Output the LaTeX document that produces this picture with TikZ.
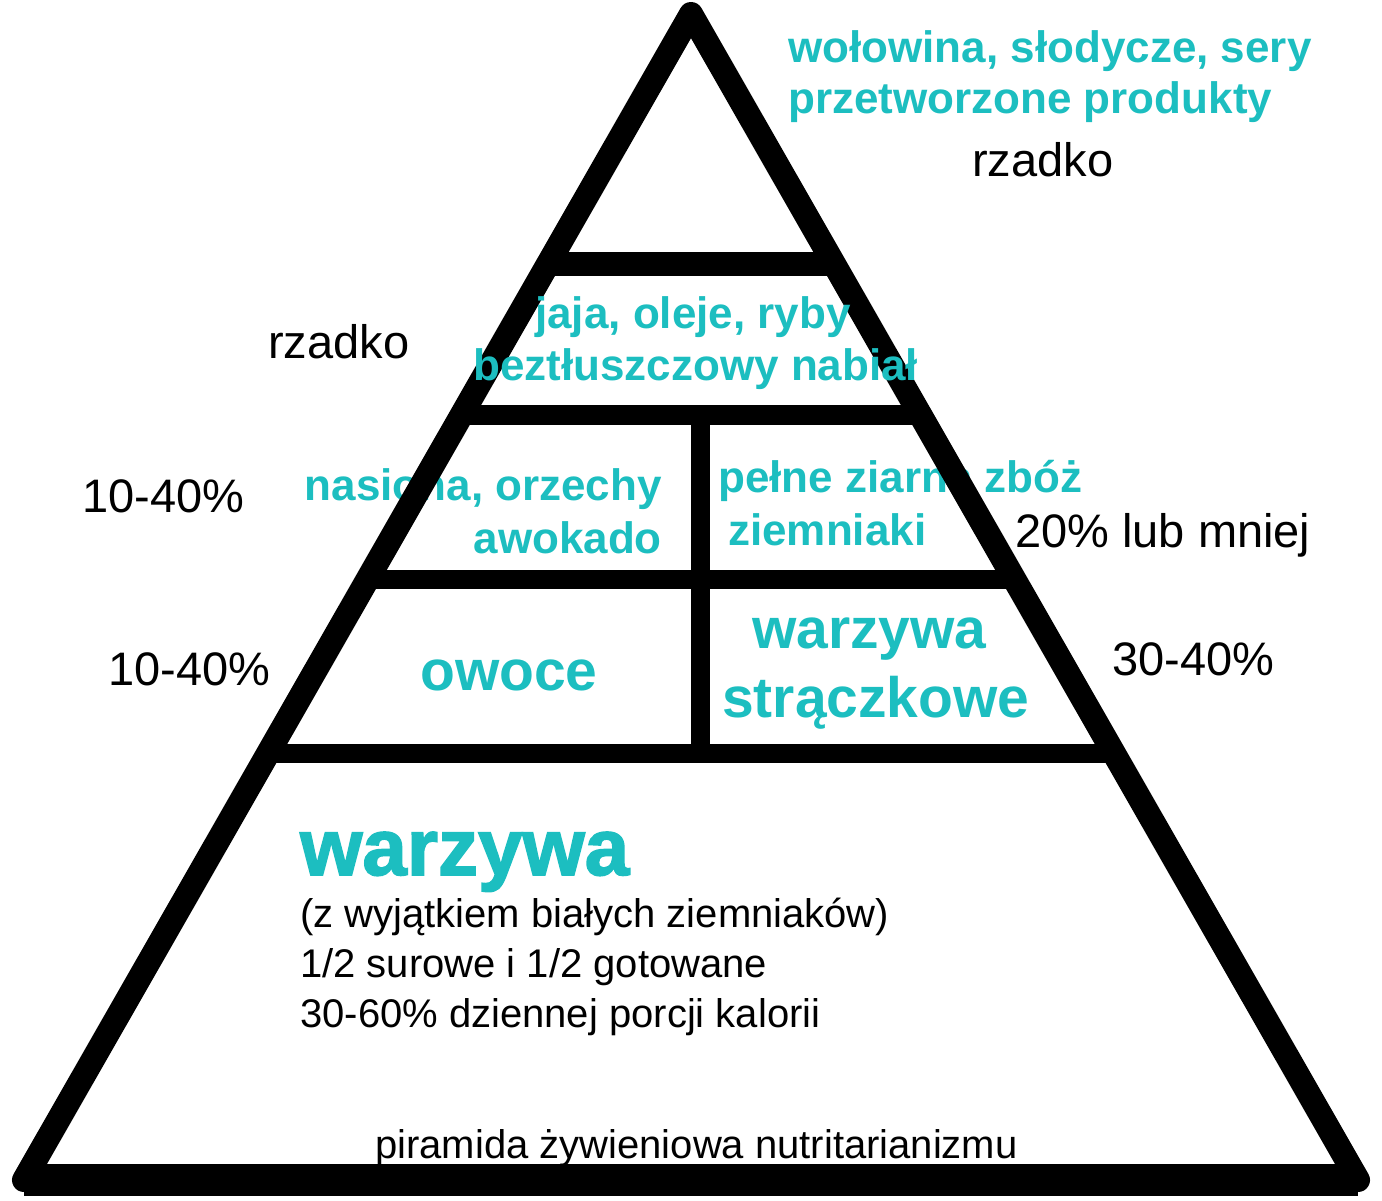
\documentclass[tikz,border=0pt]{standalone}
\usepackage{fontspec}
\setmainfont{Liberation Sans}
\usetikzlibrary{calc}
\definecolor{cyanT}{RGB}{28,190,192}
\tikzset{
  edge/.style={line width=24pt, line join=round, line cap=round},
  band/.style={line width=#1, line cap=butt},
  lbl/.style={inner sep=0pt, font=\fontsize{47}{50}\selectfont, text=black},
  cy/.style={inner sep=0pt, font=\fontsize{44}{48}\selectfont\bfseries, text=cyanT},
  cymid/.style={inner sep=0pt, font=\fontsize{57}{60}\selectfont\bfseries, text=cyanT},
  cybig/.style={inner sep=0pt, font=\fontsize{80}{84}\selectfont\bfseries\addfontfeature{FakeBold=2}, text=cyanT},
  body/.style={inner sep=0pt, font=\fontsize{40}{44}\selectfont, text=black},
}
\begin{document}
\begin{tikzpicture}[x=1pt,y=-1pt]
\useasboundingbox (0,0) rectangle (1382,1200);
\fill[white] (0,0) rectangle (1382,1200);
\coordinate (A) at (691,14);
\coordinate (L) at (24,1180);
\coordinate (R) at (1358,1180);
% text that lies behind lines
\node[cy, anchor=base west] (pel) at (718,492) {pełne ziarna zbóż};
\node[cy, anchor=base east] (nas) at (662,500) {nasiona, orzechy};
% pyramid outline
\draw[edge] (A) -- (L) -- (R) -- cycle;
\draw[band=32pt] (L) -- (R);
% bands
\draw[band=24pt] ($(A)!0.2144!(L)$) coordinate (b1l) -- ($(A)!0.2144!(R)$) coordinate (b1r);
\draw[band=20pt] ($(A)!0.3439!(L)$) coordinate (b2l) -- ($(A)!0.3439!(R)$) coordinate (b2r);
\draw[band=19pt] ($(A)!0.4846!(L)$) coordinate (b3l) -- ($(A)!0.4846!(R)$) coordinate (b3r);
\draw[band=19pt] ($(A)!0.6338!(L)$) coordinate (b4l) -- ($(A)!0.6338!(R)$) coordinate (b4r);
\coordinate (v1) at (700,415);
\coordinate (v2) at (700,753);
\draw[band=19pt] (v1) -- (v2);
% texts
\node[cy, anchor=base west] (w1) at (788,62) {wołowina, słodycze, sery};
\node[cy, anchor=base west] (w2) at (788,113) {przetworzone produkty};
\node[lbl, anchor=base west] (rz1) at (972,176) {rzadko};
\node[lbl, anchor=base west] (rz2) at (268,358) {rzadko};
\node[cy, anchor=base west] (jaja) at (535,328) {jaja, oleje, ryby};
\node[cy, anchor=base west] (bez) at (473,380) {beztłuszczowy nabiał};
\node[lbl, anchor=base west] (p1) at (82,512) {10-40\%};
\node[cy, anchor=base east] (awo) at (662,553) {awokado};
\node[cy, anchor=base west] (ziem) at (728,545) {ziemniaki};
\node[lbl, anchor=base west] (p2) at (1015,547) {20\% lub mniej};
\node[lbl, anchor=base west] (p3) at (108,685) {10-40\%};
\node[cymid, anchor=base west] (owo) at (420,690) {owoce};
\node[cymid, anchor=base west] (war1) at (752,648) {warzywa};
\node[cymid, anchor=base west] (str) at (722,717) {strączkowe};
\node[lbl, anchor=base west] (p4) at (1112,675) {30-40\%};
\node[cybig, anchor=base west] (war2) at (300,875) {warzywa};
\node[body, anchor=base west] (l1) at (300,927) {(z wyjątkiem białych ziemniaków)};
\node[body, anchor=base west] (l2) at (300,977) {1/2 surowe i 1/2 gotowane};
\node[body, anchor=base west] (l3) at (300,1027) {30-60\% dziennej porcji kalorii};
\node[body, anchor=base west] (pir) at (375,1158) {piramida żywieniowa nutritarianizmu};
\end{tikzpicture}
\end{document}
